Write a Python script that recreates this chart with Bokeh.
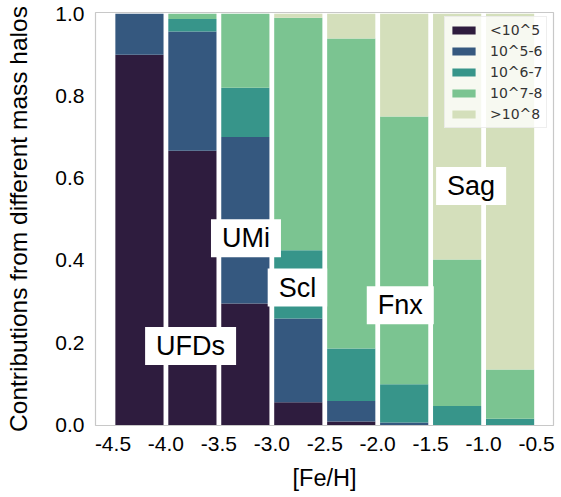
from bokeh.plotting import figure
from bokeh.models import ColumnDataSource, Label, FixedTicker, NumeralTickFormatter
from bokeh.embed import file_html
from bokeh.resources import INLINE

# [Fe/H] bin left edges (bins are 0.5 dex wide)
feh_left = [-4.5, -4.0, -3.5, -3.0, -2.5, -2.0, -1.5, -1.0]
bin_width = 0.5

# Fractional contribution of each halo-mass class per metallicity bin
mass_lt_1e5 = [0.900, 0.667, 0.295, 0.055, 0.008, 0.000, 0.000, 0.000]
mass_1e5_6 = [0.100, 0.290, 0.405, 0.204, 0.050, 0.006, 0.000, 0.000]
mass_1e6_7 = [0.000, 0.030, 0.120, 0.166, 0.128, 0.093, 0.046, 0.015]
mass_1e7_8 = [0.000, 0.013, 0.180, 0.565, 0.754, 0.651, 0.356, 0.120]
mass_gt_1e8 = [0.000, 0.000, 0.000, 0.010, 0.060, 0.250, 0.598, 0.865]

series_keys = ["lt5", "m56", "m67", "m78", "gt8"]
series_labels = ["<10^5", "10^5-6", "10^6-7", "10^7-8", ">10^8"]
series_colors = ["#2e1c3e", "#35587f", "#37958a", "#7bc491", "#d4dfbb"]

x_ticks = [-4.5, -4.0, -3.5, -3.0, -2.5, -2.0, -1.5, -1.0, -0.5]
y_ticks = [0.0, 0.2, 0.4, 0.6, 0.8, 1.0]

# Galaxy annotations: text and placement
galaxy_labels = [
    ("UFDs", -3.767, 0.192),
    ("UMi", -3.244, 0.454),
    ("Scl", -2.758, 0.334),
    ("Fnx", -1.787, 0.291),
    ("Sag", -1.118, 0.581),
]

centers = [x + bin_width / 2 for x in feh_left]
source = ColumnDataSource(dict(
    x=centers,
    lt5=mass_lt_1e5,
    m56=mass_1e5_6,
    m67=mass_1e6_7,
    m78=mass_1e7_8,
    gt8=mass_gt_1e8,
))

p = figure(
    width=561, height=497,
    x_range=(-4.665, -0.34), y_range=(-0.0015, 1.003),
    output_backend="svg", toolbar_location=None,
    min_border_left=95, min_border_right=8,
    min_border_top=12, min_border_bottom=72,
)

p.vbar_stack(
    series_keys, x="x", width=0.455, source=source,
    color=series_colors, line_color=None,
    legend_label=series_labels,
)

for text, lx, ly in galaxy_labels:
    p.add_layout(Label(
        x=lx, y=ly, text=text,
        text_align="center", text_baseline="middle",
        text_font="Liberation Sans", text_font_size="27px", text_color="black",
        background_fill_color="white", background_fill_alpha=1.0,
        padding=dict(x=11, y=4),
    ))

# Frame and axes
p.outline_line_color = "#c8c8c8"
p.outline_line_width = 1.2
p.grid.grid_line_color = None
p.background_fill_color = "white"

for ax in (p.xaxis[0], p.yaxis[0]):
    ax.axis_line_color = None
    ax.major_tick_line_color = None
    ax.minor_tick_line_color = None
    ax.major_label_text_font = "Liberation Sans"
    ax.major_label_text_font_size = "21px"
    ax.major_label_text_color = "black"
    ax.axis_label_text_font = "Liberation Sans"
    ax.axis_label_text_font_style = "normal"
    ax.axis_label_text_color = "black"
    ax.major_label_standoff = 5

p.xaxis.axis_label_text_font_size = "23.5px"
p.yaxis.axis_label_text_font_size = "24.5px"
p.xaxis.ticker = FixedTicker(ticks=x_ticks)
p.yaxis.ticker = FixedTicker(ticks=y_ticks)
p.xaxis.formatter = NumeralTickFormatter(format="0.0")
p.yaxis.formatter = NumeralTickFormatter(format="0.0")
p.xaxis.axis_label = "[Fe/H]"
p.yaxis.axis_label = "Contributions from different mass halos"
p.xaxis.axis_label_standoff = 11
p.yaxis.axis_label_standoff = 20

# Legend
lg = p.legend[0]
lg.location = (349, 297)
lg.padding = 4
lg.spacing = 3
lg.margin = 0
lg.label_height = 18
lg.glyph_height = 10
lg.glyph_width = 29
lg.label_standoff = 12
lg.label_text_font = "DejaVu Sans"
lg.label_text_font_size = "14px"
lg.label_text_color = "#333333"
lg.background_fill_color = "white"
lg.background_fill_alpha = 0.8
lg.border_line_color = "#dddddd"

open("out.html", "w").write(file_html(p, INLINE))
